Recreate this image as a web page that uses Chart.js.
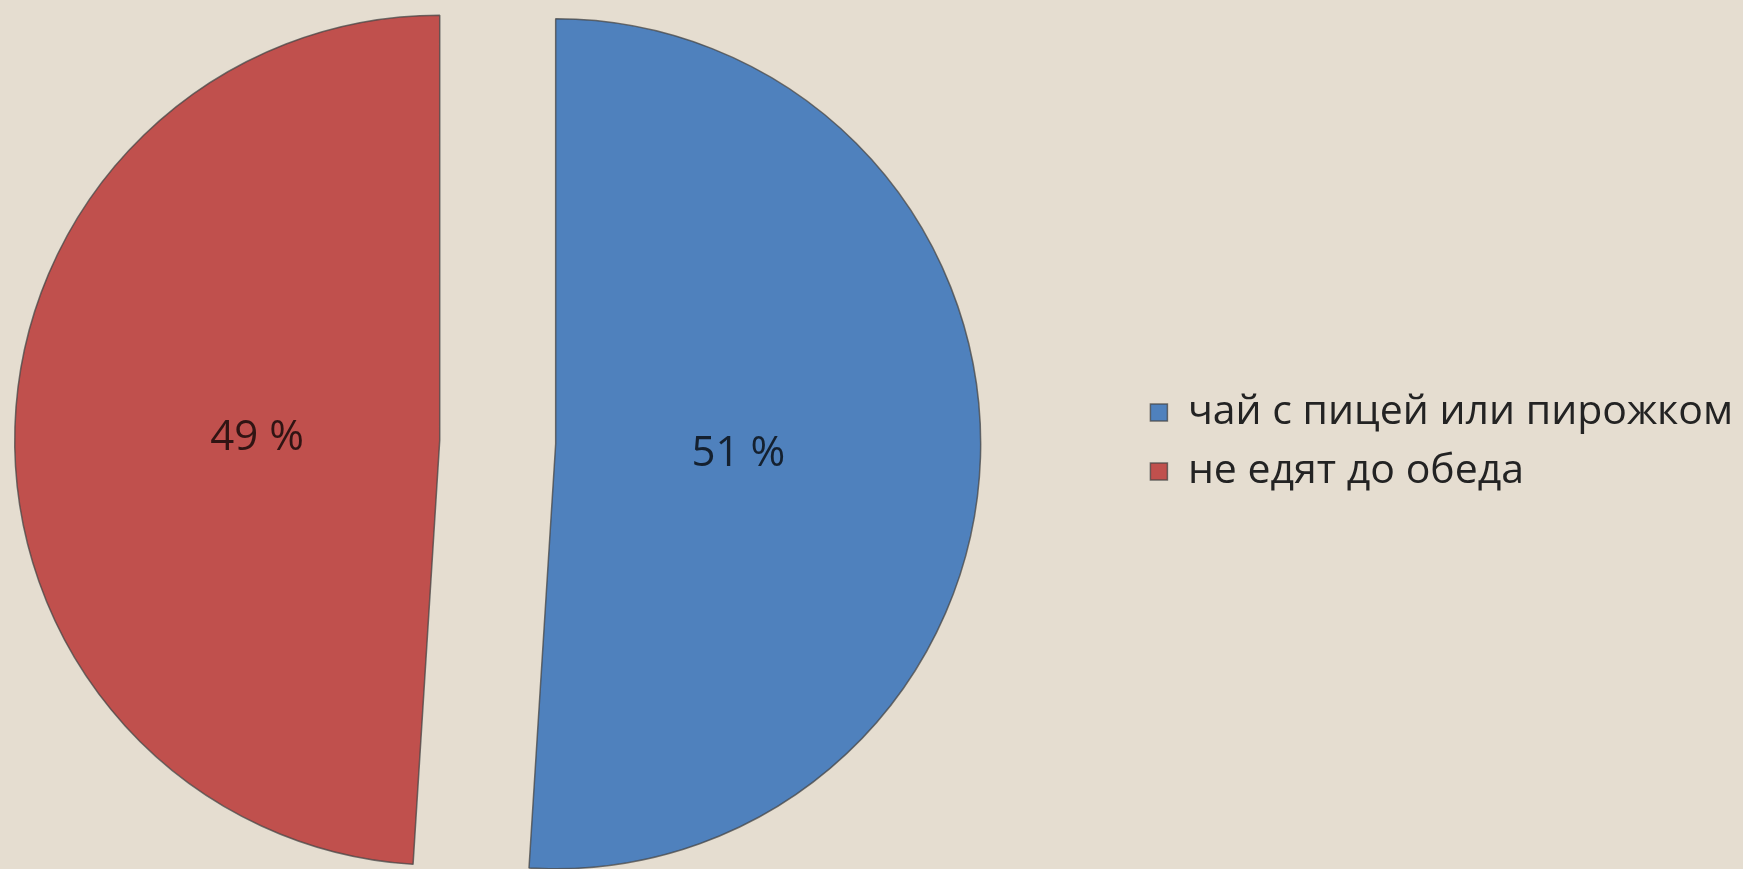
<!DOCTYPE html>
<html>
<head>
<meta charset="utf-8">
<script src="https://cdn.jsdelivr.net/npm/chart.js@4"></script>
<style>
  html, body { margin: 0; padding: 0; background: #e5ddd0; overflow: hidden; }
  /* el lienzo es más ancho y se corre a la izquierda para que la torta quede donde va */
  #grafico { display: block; margin-left: -137px; }
</style>
</head>
<body>
<canvas id="grafico" width="1880" height="869"></canvas>
<script>
const categorias = ["чай с пицей или пирожком", "не едят до обеда"]
const porcentajes = [51, 49]
const colores = ["#4f81bd", "#c0504d"]
const separacion = 58 // px que se aleja cada porción del centro

// separa las porciones moviendo su centro sobre la bisectriz (bordes rectos paralelos)
const separarPorciones = {
    id: "separarPorciones",
    afterDatasetsUpdate(chart) {
        chart.getDatasetMeta(0).data.forEach((arco) => {
            const mitad = (arco.startAngle + arco.endAngle) / 2
            arco.x += Math.cos(mitad) * separacion
            arco.y += Math.sin(mitad) * separacion
        })
    }
}

// etiquetas dentro de cada porción
const etiquetasPie = {
    id: "etiquetasPie",
    afterDatasetsDraw(chart) {
        const ctx = chart.ctx
        const meta = chart.getDatasetMeta(0)
        ctx.save()
        ctx.font = "42px 'Open Sans'"
        ctx.fillStyle = "rgba(0, 0, 0, 0.75)"
        ctx.textAlign = "center"
        ctx.textBaseline = "middle"
        meta.data.forEach((arco, i) => {
            const mitad = (arco.startAngle + arco.endAngle) / 2
            const dist = arco.outerRadius * 0.43
            const x = arco.x + Math.cos(mitad) * dist
            const y = arco.y + Math.sin(mitad) * dist + 4
            ctx.fillText(porcentajes[i] + " %", x, y)
        })
        ctx.restore()
    }
}

const config = {
    type: "pie",
    data: {
        labels: categorias,
        datasets: [
            {
                data: porcentajes,
                backgroundColor: colores,
                borderColor: "rgba(70, 70, 70, 0.75)",
                borderWidth: 1.5
            }
        ]
    },
    options: {
        responsive: false,
        animation: false,
        radius: 425,
        layout: {
            padding: { top: 15, bottom: 0, left: 0, right: 0 }
        },
        plugins: {
            legend: {
                position: "right",
                align: "center",
                labels: {
                    boxWidth: 17,
                    boxHeight: 17,
                    padding: 18,
                    color: "#232323",
                    font: { family: "'Open Sans'", size: 41 }
                }
            },
            tooltip: { enabled: false }
        }
    },
    plugins: [separarPorciones, etiquetasPie]
}

const miGrafico = new Chart(document.querySelector("#grafico"), config)
</script>
</body>
</html>
